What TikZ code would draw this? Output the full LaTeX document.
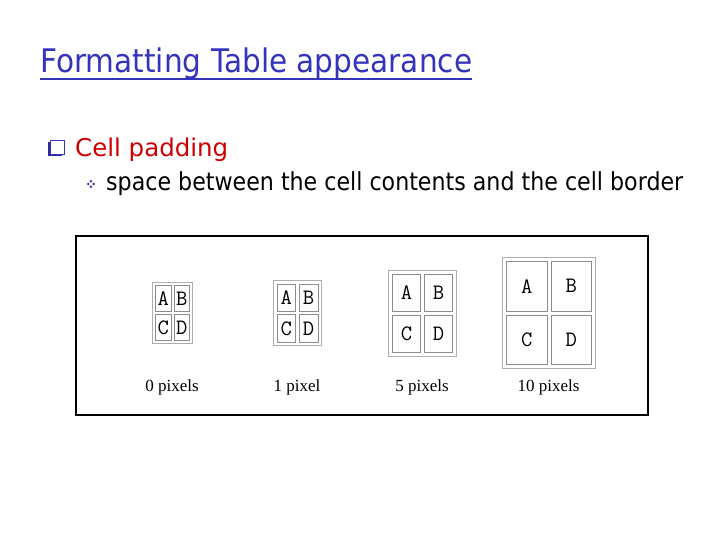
\documentclass[tikz,border=0pt]{standalone}
\usepackage{fontspec}
\usepackage{graphicx}
\setmainfont{Liberation Serif}
\newfontfamily\titlefam{DejaVu Sans}
\definecolor{titleblue}{RGB}{51,51,187}
\definecolor{padred}{RGB}{204,0,0}
\begin{document}
\begin{tikzpicture}[x=1pt,y=-1pt,
  tabout/.style={draw=black!32, line width=1.2pt, inner sep=0pt},
  tabcell/.style={draw=black!45, line width=0.9pt, inner sep=0pt, font=\ttfamily\fontsize{22}{24}\selectfont},
  lbl/.style={anchor=base, inner sep=0pt, font=\fontsize{17}{20}\selectfont},
  linetext/.style={anchor=base west, inner sep=0pt}]
\useasboundingbox (0,0) rectangle (720,540);
% title
\node[linetext, text=titleblue] (title) at (40,73)
  {\titlefam\scalebox{1}[1.1]{\resizebox{432pt}{!}{\fontsize{29}{34}\selectfont Formatting Table appearance}}};
\draw[titleblue, line width=2pt] ([yshift=-6pt]title.base west) -- ([yshift=-6pt]title.base east);
% bullet 1
\fill[titleblue!85!black] (48,142) rectangle (62,156);
\filldraw[fill=white, draw=titleblue, line width=0.8pt] (50,140) rectangle (64,154);
\node[linetext, text=padred] (cp) at (75,157)
  {\titlefam\resizebox{153pt}{!}{\fontsize{24}{28}\selectfont Cell padding}};
% bullet 2
\foreach \dx/\dy in {0/-2.8,2.8/0,0/2.8,-2.8/0}
  \fill[titleblue] (91+\dx,184+\dy) circle (1.4pt);
\node[linetext] (sp) at (106,191)
  {\titlefam\scalebox{1}[1.12]{\resizebox{577pt}{!}{\fontsize{22}{26}\selectfont space between the cell contents and the cell border}}};
% frame
\node[draw, line width=1.5pt, inner sep=0pt, minimum width=572pt, minimum height=179pt, anchor=north west] (frame) at (75,235) {};
% tables
\foreach \n/\xa/\ya/\xb/\yb/\g/\lab in {1/152/282/192/343/3/0 pixels, 2/273/280/321/345/3.5/1 pixel, 3/388/270/456/356/4/5 pixels, 4/502/257/595/368/4/10 pixels}{
  \pgfmathsetmacro\W{\xb-\xa}
  \pgfmathsetmacro\H{\yb-\ya}
  \pgfmathsetmacro\w{(\W-3*\g)/2}
  \pgfmathsetmacro\h{(\H-3*\g)/2}
  \node[tabout, minimum width=\W pt, minimum height=\H pt, anchor=north west] (t\n) at (\xa,\ya) {};
  \node[tabcell, minimum width=\w pt, minimum height=\h pt, anchor=north west] (t\n a) at (\xa+\g,\ya+\g) {A};
  \node[tabcell, minimum width=\w pt, minimum height=\h pt, anchor=north west] (t\n b) at (\xa+2*\g+\w,\ya+\g) {B};
  \node[tabcell, minimum width=\w pt, minimum height=\h pt, anchor=north west] (t\n c) at (\xa+\g,\ya+2*\g+\h) {C};
  \node[tabcell, minimum width=\w pt, minimum height=\h pt, anchor=north west] (t\n d) at (\xa+2*\g+\w,\ya+2*\g+\h) {D};
  \node[lbl] (l\n) at ({(\xa+\xb)/2},391) {\lab};
}
\end{tikzpicture}
\end{document}
